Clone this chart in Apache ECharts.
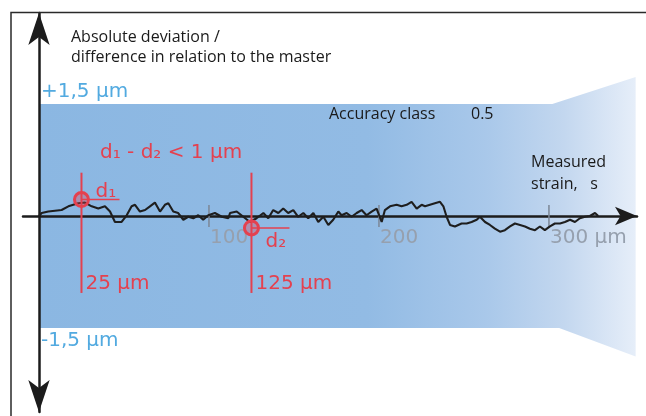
<!DOCTYPE html>
<html><head><meta charset="utf-8">
<script src="https://cdn.jsdelivr.net/npm/echarts@6/dist/echarts.min.js"></script>
<style>html,body{margin:0;padding:0;background:#fff}#c{width:646px;height:416px}</style>
</head><body><div id="c"></div>
<script>
// Measured strain (µm) and absolute deviation (µm)
const strainUm = [0,1.6,5.5,9.4,13.3,17.3,20.2,23.1,27.1,31.0,34.9,38.8,41.8,44.7,48.6,51.6,54.5,56.5,59.4,62.4,65.3,68.2,71.2,74.1,76.1,79.0,81.9,84.9,87.8,90.8,93.7,96.6,99.6,103.5,107.5,111.4,
  112.4,116.3,120.2,124.1,128.0,132.0,134.9,137.8,140.8,143.7,146.6,149.6,152.5,155.5,158.4,161.4,164.3,167.3,170.2,173.1,176.1,178.0,181.0,183.9,186.9,189.8,192.7,195.7,198.6,201.6,203.5,206.5,210.4,213.3,216.3,219.2,222.2,225.1,
  227.1,230.0,232.9,235.9,237.9,239.8,241.8,244.7,248.6,251.6,254.5,257.5,259.4,262.4,265.3,268.2,271.2,274.1,277.1,280.0,283.0,285.9,288.8,291.8,294.7,297.6,300.6,303.5,306.5,309.4,312.4,315.3,318.2,321.2,324.1,327.1,329.0];
const deviationUm = [0,0.04,0.06,0.07,0.08,0.13,0.15,0.17,0.18,0.13,0.10,0.13,0.06,-0.08,-0.08,0.01,0.13,0.15,0.06,0.08,0.13,0.18,0.06,0.15,0.17,0.06,0.04,-0.05,-0.01,-0.03,0.01,-0.05,0.01,0.04,-0.01,-0.03,
  0.04,0.06,-0.01,-0.08,-0.03,0.04,-0.03,0.08,0.04,0.10,0.04,0.08,-0.01,0.04,-0.03,0.04,-0.08,-0.01,-0.12,-0.05,0.06,0.01,0.04,-0.01,0.04,0.08,0.01,0.06,0.10,-0.08,0.08,0.13,0.15,0.13,0.15,0.19,0.10,0.15,
  0.13,0.15,0.17,0.19,0.13,-0.01,-0.12,-0.14,-0.10,-0.10,-0.08,-0.05,-0.01,-0.08,-0.12,-0.17,-0.21,-0.19,-0.14,-0.10,-0.12,-0.14,-0.17,-0.19,-0.14,-0.19,-0.14,-0.10,-0.10,-0.08,-0.05,-0.08,-0.03,-0.01,0.00,0.04,0.00];

// X-axis ticks
const tickValues = [100, 200, 300];
const tickLabels = ['100', '200', '300 µm'];

// Accuracy-class tolerance band (µm)
const bandTopX = [0, 302, 351];
const bandTop = [1.5, 1.5, 1.86];
const bandBottomX = [0, 306, 351];
const bandBottom = [-1.5, -1.5, -1.88];
const toleranceValues = [1.5, -1.5];
const toleranceLabels = ['+1,5 µm', '-1,5 µm'];

// Marked points d1 / d2
const markerStrain = [25, 125];
const markerDeviation = [0.22, -0.16];
const markerNames = ['d₁', 'd₂'];
const markerLabels = ['25 µm', '125 µm'];
const markerLineTop = 0.58, markerLineBottom = -1.03;

const RED = '#e4414f';
const TEXT = '#1a1a1a';
const chart = echarts.init(document.getElementById('c'));

const option = {
  animation: false,
  grid: { left: 23, right: 9, top: 13, bottom: 4, outerBoundsMode: 'none' },
  xAxis: {
    type: 'value', min: -9.4, max: 351.8, z: 1,
    axisLine: { onZero: true, symbol: ['none', 'arrow'], symbolSize: [14, 22], lineStyle: { color: '#1c1c1c', width: 2.5 } },
    axisTick: { show: false }, splitLine: { show: false }, axisLabel: { show: false }
  },
  yAxis: {
    type: 'value', min: -2.624, max: 2.718, z: 1,
    axisLine: { onZero: true, symbol: ['arrow', 'arrow'], symbolSize: [16, 32], lineStyle: { color: '#1c1c1c', width: 2.5 } },
    axisTick: { show: false }, axisLabel: { show: false }, splitLine: { show: false }
  },
  graphic: [
    { type: 'polyline', z: 100, shape: { points: [[11, 416], [11, 12.5], [646, 12.5]] }, style: { stroke: '#2a2a2a', lineWidth: 1.5, fill: null } },
    { type: 'text', left: 71, top: 29, z: 100, style: { text: 'Absolute deviation /', fill: TEXT, font: '16px "Open Sans"' } },
    { type: 'text', left: 71, top: 49, z: 100, style: { text: 'difference in relation to the master', fill: TEXT, font: '16px "Open Sans"' } },
    { type: 'text', left: 329, top: 106, z: 100, style: { text: 'Accuracy class', fill: TEXT, font: '16px "Open Sans"' } },
    { type: 'text', left: 471, top: 106, z: 100, style: { text: '0.5', fill: TEXT, font: '16px "Open Sans"' } },
    { type: 'text', left: 531, top: 154, z: 100, style: { text: 'Measured', fill: TEXT, font: '16px "Open Sans"' } },
    { type: 'text', left: 531, top: 176, z: 100, style: { text: 'strain,   s', fill: TEXT, font: '16px "Open Sans"' } },
    { type: 'text', left: 100, top: 143, z: 100, style: { text: 'd₁ - d₂ < 1 µm', fill: RED, font: '20px "DejaVu Sans"' } }
  ],
  series: [
    {
      name: 'band', type: 'custom', z: -1, silent: true, data: [[0, 0]],
      renderItem: (params, api) => {
        const pts = [];
        for (let i = 0; i < bandTopX.length; i++) pts.push(api.coord([bandTopX[i], bandTop[i]]));
        for (let i = bandBottomX.length - 1; i >= 0; i--) pts.push(api.coord([bandBottomX[i], bandBottom[i]]));
        return {
          type: 'polygon', shape: { points: pts },
          style: { fill: new echarts.graphic.LinearGradient(0, 0, 1, 0, [
            { offset: 0, color: '#8bb7e2' }, { offset: 0.55, color: '#92bbe4' },
            { offset: 0.75, color: '#a9c8ea' }, { offset: 0.88, color: '#c3d7ef' }, { offset: 1, color: '#e6eef9' }
          ]) }
        };
      }
    },
    {
      name: 'tolerance labels', type: 'custom', silent: true, z: 5,
      data: toleranceValues.map((v, i) => [0, v, i]),
      renderItem: (params, api) => {
        const v = api.value(1), i = api.value(2);
        const p = api.coord([0, v]);
        return { type: 'text', style: {
          text: toleranceLabels[i], x: p[0] + 2, y: v > 0 ? p[1] - 2 : p[1] + 3,
          verticalAlign: v > 0 ? 'bottom' : 'top', align: 'left',
          fill: '#52aae0', font: '20px "DejaVu Sans"' } };
      }
    },
    {
      name: 'ticks', type: 'custom', silent: true, z: 2,
      data: tickValues.map((v, i) => [v, 0, i]),
      renderItem: (params, api) => {
        const p = api.coord([api.value(0), 0]);
        const i = api.value(2);
        return { type: 'group', children: [
          { type: 'line', shape: { x1: p[0], y1: p[1] - 11, x2: p[0], y2: p[1] + 11 }, style: { stroke: '#7c8796', lineWidth: 1.5 } },
          { type: 'text', style: { text: tickLabels[i], x: p[0] + 1, y: p[1] + 12, verticalAlign: 'top', align: 'left', fill: '#96a0ae', font: '20px "DejaVu Sans"' } }
        ] };
      }
    },
    {
      name: 'deviation', type: 'line', z: 4, showSymbol: false, silent: true,
      data: strainUm.map((x, i) => [x, deviationUm[i]]),
      lineStyle: { color: '#1e1e1e', width: 2.1 }
    },
    {
      name: 'markers', type: 'custom', silent: true, z: 6,
      data: markerStrain.map((x, i) => [x, markerDeviation[i], i]),
      renderItem: (params, api) => {
        const x = api.value(0), d = api.value(1), i = api.value(2);
        const top = api.coord([x, markerLineTop]);
        const bot = api.coord([x, markerLineBottom]);
        const c = api.coord([x, d]);
        const up = d > 0;
        return { type: 'group', children: [
          { type: 'line', shape: { x1: top[0], y1: top[1], x2: bot[0], y2: bot[1] }, style: { stroke: RED, lineWidth: 2 } },
          { type: 'line', shape: { x1: c[0], y1: c[1], x2: c[0] + 38, y2: c[1] }, style: { stroke: RED, lineWidth: 1.5 } },
          { type: 'circle', shape: { cx: c[0], cy: c[1], r: 7 }, style: { fill: 'rgba(228,65,79,0.35)', stroke: RED, lineWidth: 3 } },
          { type: 'text', style: { text: markerNames[i], x: c[0] + 14, y: up ? c[1] + 2 : c[1] + 4, verticalAlign: up ? 'bottom' : 'top', fill: RED, font: '20px "DejaVu Sans"' } },
          { type: 'text', style: { text: markerLabels[i], x: bot[0] + 4, y: bot[1] - 9, verticalAlign: 'middle', fill: RED, font: '20px "DejaVu Sans"' } }
        ] };
      }
    }
  ]
};
chart.setOption(option);
</script>
</body></html>
